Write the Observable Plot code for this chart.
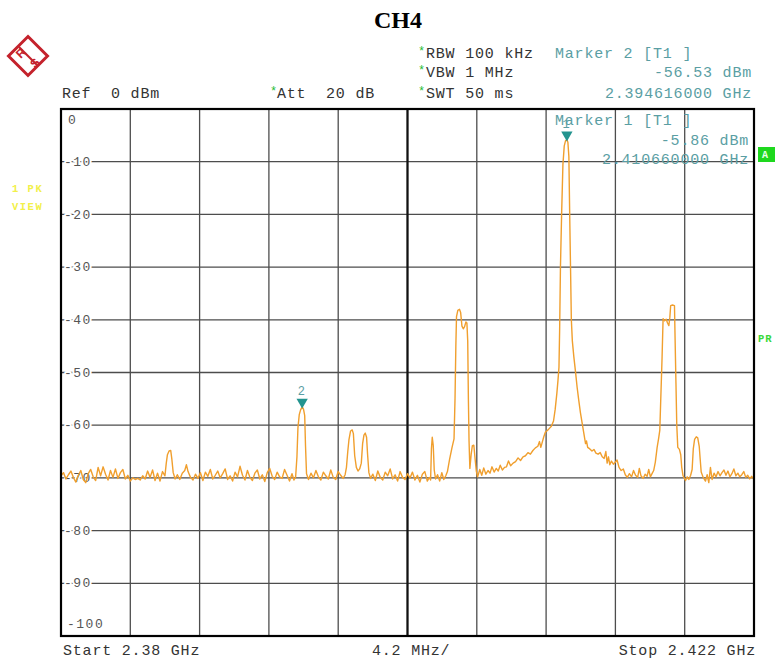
<!DOCTYPE html>
<html><head><meta charset="utf-8">
<script src="https://cdn.jsdelivr.net/npm/d3@7"></script>
<script src="https://cdn.jsdelivr.net/npm/@observablehq/plot@0.6"></script>
<style>
html,body{margin:0;padding:0;background:#fff;}
#wrap{position:relative;width:775px;height:660px;overflow:hidden;background:#fff;}
#wrap svg{position:absolute;left:0;top:0;}
</style></head><body><div id="wrap"></div>
<script>
// ---- data ----
const startMHz = 2380, stopMHz = 2422, centerMHz = 2401;
const gridFreqs = [2380, 2384.2, 2388.4, 2392.6, 2396.8, 2401, 2405.2, 2409.4, 2413.6, 2417.8, 2422];
const levelTicks = [0, -10, -20, -30, -40, -50, -60, -70, -80, -90, -100];
const levelLabels = ["0", "-10", "-20", "-30", "-40", "-50", "-60", "-70", "-80", "-90", "-100"];
const markerNames = ["1", "2"];
const markerFreqGHz = [2.41066, 2.394616];
const markerLevel = [-5.86, -56.53];
const headerLeft = ["Ref  0 dBm"];
const settings = ["RBW 100 kHz", "VBW 1 MHz", "SWT 50 ms"];
const attText = "Att  20 dB";
const footer = ["Start 2.38 GHz", "4.2 MHz/", "Stop 2.422 GHz"];
// trace: [offset from start (MHz), level (dBm)]
const trace = [
[0.00,-69.6],[0.15,-69.0],[0.30,-70.2],[0.45,-69.4],[0.60,-68.7],[0.75,-69.9],[0.90,-70.8],[1.05,-69.5],[1.20,-68.6],[1.35,-70.3],
[1.50,-70.9],[1.65,-69.2],[1.80,-68.4],[1.95,-69.8],[2.10,-70.5],[2.25,-68.0],[2.40,-69.6],[2.55,-67.9],[2.70,-69.3],[2.85,-70.4],
[3.00,-68.6],[3.15,-69.9],[3.30,-68.3],[3.45,-70.1],[3.60,-69.0],[3.75,-68.4],[3.90,-70.2],[4.05,-69.5],[4.20,-70.6],[4.35,-70.0],
[4.50,-70.3],[4.65,-70.1],[4.80,-70.4],[4.95,-69.6],[5.10,-70.2],[5.25,-68.7],[5.40,-69.9],[5.55,-68.5],[5.70,-70.5],[5.85,-69.1],
[6.00,-70.6],[6.15,-68.8],[6.30,-69.6],[6.38,-67.2],[6.45,-65.6],[6.55,-64.9],[6.65,-64.8],[6.72,-66.5],[6.80,-69.0],[6.92,-70.2],
[7.05,-69.4],[7.20,-70.3],[7.35,-69.1],[7.50,-68.6],[7.60,-67.5],[7.70,-68.8],[7.85,-69.9],[8.00,-70.4],[8.15,-69.3],[8.30,-70.1],
[8.45,-69.0],[8.60,-70.5],[8.75,-68.9],[8.90,-69.7],[9.05,-68.4],[9.20,-70.2],[9.35,-69.5],[9.50,-68.7],[9.65,-70.0],[9.80,-69.2],
[9.95,-68.3],[10.10,-70.3],[10.25,-69.6],[10.40,-70.6],[10.55,-68.9],[10.70,-69.8],[10.85,-67.8],[11.00,-69.5],[11.15,-70.4],[11.30,-68.6],
[11.45,-69.9],[11.60,-70.5],[11.75,-69.1],[11.90,-68.5],[12.05,-70.2],[12.20,-69.4],[12.35,-70.7],[12.50,-69.0],[12.65,-68.2],[12.80,-69.7],
[12.95,-70.3],[13.10,-68.9],[13.25,-69.8],[13.40,-70.1],[13.55,-68.4],[13.70,-69.5],[13.85,-70.6],[14.00,-69.2],[14.12,-70.4],[14.22,-69.8],
[14.30,-66.0],[14.36,-60.5],[14.44,-58.0],[14.52,-57.1],[14.62,-56.53],[14.70,-57.0],[14.77,-58.2],[14.82,-64.0],[14.88,-69.2],[15.00,-70.3],
[15.15,-69.1],[15.30,-70.0],[15.45,-68.6],[15.60,-69.8],[15.75,-70.4],[15.90,-68.9],[16.05,-69.6],[16.20,-70.2],[16.35,-68.5],[16.50,-69.9],
[16.65,-70.3],[16.80,-68.8],[16.95,-69.5],[17.10,-70.1],[17.22,-69.4],[17.30,-68.0],[17.38,-65.0],[17.45,-62.8],[17.55,-61.1],[17.65,-60.9],
[17.72,-61.6],[17.80,-65.8],[17.90,-68.0],[18.00,-68.7],[18.10,-68.3],[18.20,-67.2],[18.28,-63.5],[18.36,-61.9],[18.44,-61.5],[18.52,-62.3],
[18.58,-65.5],[18.66,-69.0],[18.76,-70.1],[18.90,-69.3],[19.05,-70.5],[19.20,-68.7],[19.35,-69.9],[19.50,-70.4],[19.65,-68.9],[19.80,-69.6],
[19.95,-68.3],[20.10,-70.2],[20.25,-69.4],[20.40,-70.6],[20.55,-68.8],[20.70,-69.9],[20.85,-70.3],[21.00,-69.2],[21.15,-70.0],[21.30,-68.9],
[21.45,-70.4],[21.60,-69.5],[21.75,-70.8],[21.90,-69.3],[22.05,-68.8],[22.20,-70.6],[22.32,-69.9],[22.40,-70.4],[22.45,-64.5],[22.50,-62.3],
[22.56,-63.8],[22.62,-68.5],[22.70,-70.2],[22.82,-69.4],[22.95,-70.6],[23.08,-69.0],[23.20,-70.3],[23.32,-69.6],[23.42,-68.8],[23.55,-66.5],
[23.70,-64.2],[23.82,-62.6],[23.88,-55.0],[23.93,-45.0],[23.97,-39.4],[24.05,-38.2],[24.15,-38.0],[24.22,-38.6],[24.30,-41.2],[24.38,-41.7],
[24.46,-41.3],[24.54,-40.4],[24.60,-40.6],[24.65,-44.0],[24.69,-55.0],[24.73,-63.0],[24.78,-68.2],[24.86,-65.5],[24.93,-63.9],[25.02,-63.8],
[25.10,-66.5],[25.17,-68.7],[25.25,-69.8],[25.38,-68.4],[25.50,-69.5],[25.62,-68.1],[25.75,-69.3],[25.88,-68.6],[26.00,-69.1],[26.12,-67.9],
[26.25,-68.9],[26.38,-68.2],[26.50,-68.7],[26.62,-67.6],[26.75,-68.5],[26.88,-68.0],[27.00,-67.9],[27.12,-66.8],[27.25,-67.7],[27.40,-67.2],
[27.55,-66.9],[27.70,-66.2],[27.85,-66.7],[28.00,-66.0],[28.15,-65.8],[28.30,-65.2],[28.45,-65.5],[28.60,-64.8],[28.75,-64.3],[28.90,-64.0],
[29.00,-63.1],[29.08,-64.2],[29.16,-63.3],[29.26,-62.2],[29.36,-61.3],[29.48,-61.0],[29.60,-60.6],[29.72,-60.2],[29.85,-59.2],[29.95,-57.0],
[30.05,-54.0],[30.12,-51.5],[30.18,-49.0],[30.22,-42.0],[30.27,-30.0],[30.34,-20.0],[30.42,-10.5],[30.50,-7.0],[30.58,-6.0],[30.66,-5.86],
[30.72,-6.3],[30.78,-9.0],[30.83,-20.0],[30.88,-30.0],[30.93,-40.0],[30.99,-44.0],[31.08,-47.0],[31.18,-49.8],[31.28,-52.8],[31.38,-55.3],
[31.48,-57.6],[31.59,-59.7],[31.70,-61.8],[31.79,-63.5],[31.85,-63.0],[31.92,-64.2],[32.05,-64.5],[32.18,-64.9],[32.30,-64.6],[32.42,-65.3],
[32.55,-65.5],[32.68,-65.2],[32.80,-66.0],[32.92,-66.3],[33.02,-65.0],[33.10,-67.2],[33.18,-66.0],[33.26,-67.5],[33.36,-66.8],[33.48,-67.4],
[33.60,-67.0],[33.70,-66.6],[33.82,-68.0],[33.95,-68.6],[34.08,-68.3],[34.20,-69.4],[34.32,-69.9],[34.45,-69.2],[34.58,-69.8],[34.70,-68.6],
[34.82,-69.5],[34.95,-69.9],[35.05,-68.2],[35.15,-69.6],[35.28,-70.1],[35.40,-69.3],[35.52,-69.7],[35.62,-68.4],[35.72,-69.8],[35.82,-69.2],
[35.92,-68.6],[36.02,-67.0],[36.13,-64.2],[36.22,-62.5],[36.29,-61.0],[36.36,-54.0],[36.43,-47.0],[36.49,-39.8],[36.58,-40.2],[36.68,-39.9],
[36.76,-40.6],[36.84,-41.1],[36.90,-39.5],[36.95,-37.3],[37.06,-37.2],[37.18,-37.3],[37.22,-44.0],[37.27,-52.0],[37.32,-60.0],[37.38,-64.2],
[37.48,-64.6],[37.56,-65.6],[37.62,-68.0],[37.70,-69.6],[37.85,-70.5],[37.95,-69.8],[38.05,-70.3],[38.16,-69.5],[38.25,-68.4],[38.32,-64.5],
[38.40,-62.7],[38.50,-62.2],[38.59,-62.4],[38.68,-64.0],[38.74,-66.5],[38.80,-68.9],[38.92,-69.9],[39.06,-70.6],[39.16,-69.4],[39.26,-70.9],
[39.36,-68.0],[39.46,-70.3],[39.58,-69.1],[39.70,-69.8],[39.82,-68.8],[39.94,-69.6],[40.06,-69.0],[40.18,-68.5],[40.30,-69.5],[40.42,-68.7],
[40.54,-69.8],[40.66,-69.2],[40.78,-68.3],[40.90,-69.6],[41.02,-69.1],[41.14,-69.8],[41.26,-69.4],[41.38,-68.8],[41.50,-69.9],[41.62,-69.5],
[41.74,-70.2],[41.86,-69.7],[42.00,-70.3]
];

// ---- build ----
const data = trace.map(([o, l]) => ({f: startMHz + o, l}));
const markers = markerNames.map((n, i) => ({n, f: markerFreqGHz[i] * 1000, l: markerLevel[i]}));
const ticks = levelTicks.map((v, i) => ({v, t: levelLabels[i]}));
const midTicks = ticks.filter(d => d.v !== 0 && d.v !== -100);
const mono = "Liberation Mono, DejaVu Sans Mono, monospace";

const chart = Plot.plot({
  width: 775, height: 660,
  marginLeft: 60.5, marginRight: 21.5, marginTop: 108.5, marginBottom: 24.5,
  x: {domain: [startMHz, stopMHz], axis: null},
  y: {domain: [-100, 0], axis: null},
  style: {background: "white", overflow: "visible"},
  marks: [
    Plot.ruleX(gridFreqs, {stroke: "#4d4d4d", strokeWidth: 1.3}),
    Plot.ruleY(levelTicks, {stroke: "#4d4d4d", strokeWidth: 1.3}),
    Plot.ruleX([centerMHz], {stroke: "#111", strokeWidth: 2.2}),
    Plot.text(midTicks, {x: startMHz, y: "v", text: "t", textAnchor: "start", dx: 3, fill: "#555", stroke: "white", strokeWidth: 4, fontFamily: mono, fontSize: 13}),
    Plot.text(ticks.filter(d => d.v === 0), {x: startMHz, y: "v", text: "t", textAnchor: "start", dx: 7, dy: 10.5, fill: "#555", fontFamily: mono, fontSize: 13}),
    Plot.text(ticks.filter(d => d.v === -100), {x: startMHz, y: "v", text: "t", textAnchor: "start", dx: 6, dy: -12.5, fill: "#555", fontFamily: mono, fontSize: 13}),
    Plot.line(data, {x: "f", y: "l", stroke: "#f09f2e", strokeWidth: 1.4}),
    Plot.dot(markers, {x: "f", y: "l", symbol: "triangle", rotate: 180, r: 4.2, fill: "#23948f", stroke: "none", dy: -5}),
    Plot.text(markers, {x: "f", y: "l", text: "n", dy: -16, fill: "#5a9ea3", fontFamily: mono, fontSize: 12}),
    Plot.frame({stroke: "#000", strokeWidth: 2.2})
  ]
});
d3.select(chart).selectAll('g[aria-label="text"] text').attr("letter-spacing", "1.5");
document.getElementById("wrap").appendChild(chart);

// ---- overlay annotations ----
const ov = d3.select("#wrap").append("svg").attr("width", 775).attr("height", 660).style("pointer-events", "none");
function txt(x, y, s, o = {}) {
  return ov.append("text").attr("x", x).attr("y", y)
    .attr("text-anchor", o.anchor || "start")
    .attr("fill", o.fill || "#333")
    .attr("font-family", o.family || mono)
    .attr("font-size", o.size || 15)
    .attr("font-weight", o.weight || "normal")
    .attr("letter-spacing", o.ls == null ? 0.8 : o.ls)
    .style("white-space", "pre")
    .text(s);
}
// title
txt(398, 28, "CH4", {anchor: "middle", family: "Liberation Serif, Times New Roman, serif", size: 24, weight: "bold", fill: "#000", ls: 0});
// logo
const lg = ov.append("g").attr("transform", "translate(28,56)");
lg.append("path").attr("d", "M0,-19.5 L19.5,0 L0,19.5 L-19.5,0 Z").attr("fill", "none").attr("stroke", "#c4222c").attr("stroke-width", 3);
lg.append("path").attr("d", "M-9,-9 L9,9").attr("stroke", "#c4222c").attr("stroke-width", 2.2);
lg.append("text").attr("x", -7).attr("y", 1).attr("text-anchor", "middle").attr("font-family", "Liberation Sans, sans-serif").attr("font-weight", "bold").attr("font-size", 12).attr("fill", "#c4222c").attr("transform", "rotate(-45,-7,-3)").text("R");
lg.append("text").attr("x", 7).attr("y", 11).attr("text-anchor", "middle").attr("font-family", "Liberation Sans, sans-serif").attr("font-weight", "bold").attr("font-size", 12).attr("fill", "#c4222c").attr("transform", "rotate(-45,7,7)").text("S");
// header
txt(62, 98, headerLeft[0]);
txt(270, 95, "*", {fill: "#22bb33", size: 12, ls: 0});
txt(277, 98, attText);
const rowY = [58, 77, 98];
settings.forEach((s, i) => {
  txt(418, rowY[i] - 3, "*", {fill: "#22bb33", size: 12, ls: 0});
  txt(426, rowY[i], s);
});
const teal = "#5a9ea3";
const m2 = markers[1], m1 = markers[0];
txt(555, 58, `Marker ${m2.n} [T1 ]`, {fill: teal});
txt(752, 77, `${m2.l.toFixed(2)} dBm`, {fill: teal, anchor: "end"});
txt(752, 98, `${(m2.f / 1000).toFixed(9)} GHz`, {fill: teal, anchor: "end"});
txt(555, 125, `Marker ${m1.n} [T1 ]`, {fill: teal});
txt(749, 144.5, `${m1.l.toFixed(2)} dBm`, {fill: teal, anchor: "end"});
txt(749, 164, `${(m1.f / 1000).toFixed(9)} GHz`, {fill: teal, anchor: "end"});
// footer
txt(63, 655, footer[0]);
txt(372, 655, footer[1]);
txt(756, 655, footer[2], {anchor: "end"});
// side labels
txt(12, 192, "1 PK", {fill: "#f2f04a", size: 10.5, weight: "bold", ls: 1.5});
txt(12, 210, "VIEW", {fill: "#f2f04a", size: 10.5, weight: "bold", ls: 1.5});
ov.append("rect").attr("x", 758).attr("y", 147).attr("width", 20).attr("height", 15).attr("fill", "#1ed81e");
txt(762, 158, "A", {fill: "#e8ffe8", size: 10, weight: "bold", ls: 0});
txt(758, 342, "PR", {fill: "#3ad83a", size: 10.5, weight: "bold", ls: 1});
</script></body></html>
